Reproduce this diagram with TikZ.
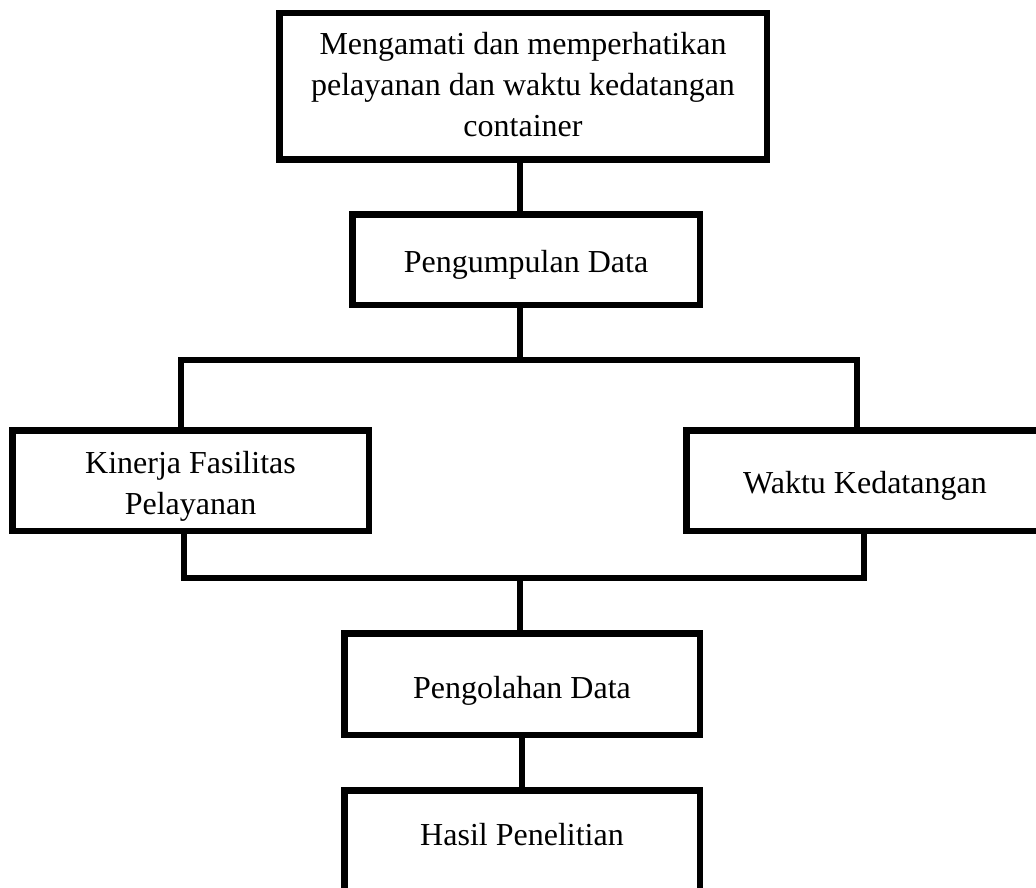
\documentclass[tikz,border=0pt]{standalone}
\usepackage{fontspec}
\setmainfont{Liberation Serif}
% extra height #1 moves the text down by #1/2, extra depth #2 moves it up by #2/2
\newcommand{\btext}[3]{\raisebox{0pt}[\dimexpr\height+#1\relax][\dimexpr\depth+#2\relax]{\begin{tabular}{@{}c@{}}#3\end{tabular}}}
\begin{document}
\begin{tikzpicture}[x=1pt,y=-1pt,
  box/.style={draw=black, line width=6.5pt, fill=white, align=center, inner sep=0pt,
    font=\fontsize{32}{41}\selectfont},
  conn/.style={draw=black, line width=6.5pt, line join=miter}]
\useasboundingbox (0,0) rectangle (1036,888);
\clip (0,0) rectangle (1036,888);
\fill[white] (0,0) rectangle (1036,888);
% junction coordinates
\coordinate (j1) at (520,360);
\coordinate (lt) at (181,360);
\coordinate (rt) at (857,360);
\coordinate (lb) at (184,578);
\coordinate (rb) at (864,578);
\coordinate (j2) at (520,578);
\coordinate (j3) at (522,760);
\node[box, minimum width=487.5pt, minimum height=146.5pt] (top) at (523,86.5)
  {\btext{2pt}{0pt}{Mengamati dan memperhatikan\\pelayanan dan waktu kedatangan\\container}};
\node[box, minimum width=347.5pt, minimum height=90.5pt] (collect) at (526,259.5) {\btext{10pt}{0pt}{Pengumpulan Data}};
\node[box, minimum width=356.5pt, minimum height=100.5pt] (left) at (190.5,480.5) {\btext{10pt}{0pt}{Kinerja Fasilitas\\Pelayanan}};
\node[box, minimum width=357.5pt, minimum height=100.5pt] (right) at (865,480.5) {\btext{10pt}{0pt}{Waktu Kedatangan}};
\node[box, minimum width=355.5pt, minimum height=101.5pt] (proc) at (522,684) {\btext{12pt}{0pt}{Pengolahan Data}};
\node[box, minimum width=355.5pt, minimum height=101.5pt] (result) at (522,841) {\btext{0pt}{8pt}{Hasil Penelitian}};
\draw[conn] (top.south -| j1) -- (collect.north -| j1);
\draw[conn] (collect.south -| j1) -- (j1);
\draw[conn] (left.north -| lt) -- (lt) -- (rt) -- (right.north -| rt);
\draw[conn] (left.south -| lb) -- (lb) -- (rb) -- (right.south -| rb);
\draw[conn] (j2) -- (proc.north -| j2);
\draw[conn] (proc.south -| j3) -- (result.north -| j3);
\end{tikzpicture}
\end{document}
